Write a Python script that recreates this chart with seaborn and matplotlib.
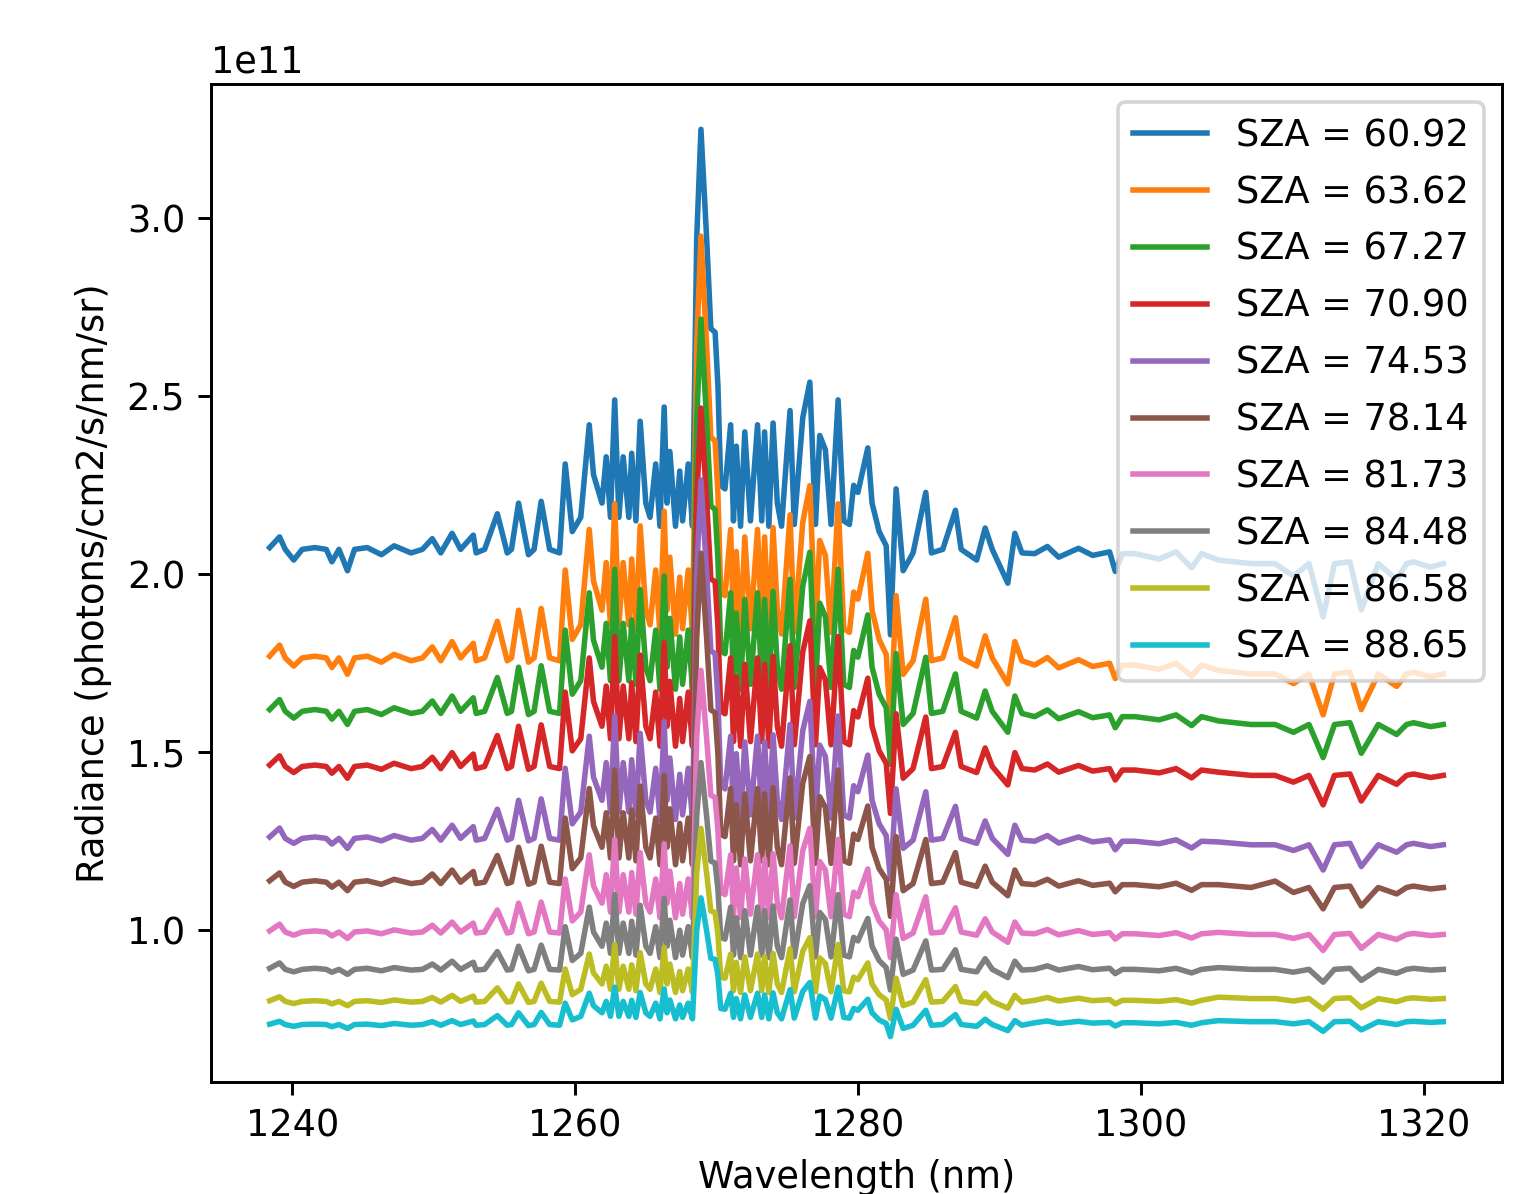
import pandas as pd
import matplotlib
matplotlib.use("Agg")
import matplotlib.pyplot as plt
import seaborn as sns

# Wavelength grid (nm), shared by all spectra
wavelength = [
    1238.4, 1239.1, 1239.5, 1240.1, 1240.7, 1241.6, 1242.4, 1242.8, 1243.3, 1243.9,
    1244.4, 1245.3, 1246.3, 1247.2, 1248.4, 1249.2, 1249.9, 1250.5, 1251.3, 1251.9,
    1252.8, 1253.0, 1253.6, 1254.5, 1255.2, 1255.5, 1256.0, 1256.7, 1257.1, 1257.6,
    1258.2, 1258.9, 1259.3, 1259.8, 1260.4, 1261.0, 1261.3, 1261.9, 1262.2, 1262.5,
    1262.8, 1263.1, 1263.4, 1263.8, 1264.0, 1264.3, 1264.6, 1265.0, 1265.3, 1265.7,
    1266.0, 1266.3, 1266.5, 1266.7, 1267.1, 1267.4, 1267.6, 1268.0, 1268.3, 1268.6,
    1268.9, 1269.3, 1269.6, 1269.9, 1270.1, 1270.3, 1270.6, 1271.0, 1271.2, 1271.4,
    1271.7, 1272.0, 1272.4, 1272.9, 1273.2, 1273.4, 1273.7, 1274.0, 1274.3, 1274.6,
    1275.2, 1275.5, 1276.1, 1276.6, 1277.0, 1277.3, 1277.7, 1278.1, 1278.6, 1279.0,
    1279.4, 1279.7, 1280.0, 1280.7, 1281.0, 1281.5, 1282.0, 1282.3, 1282.7, 1283.2,
    1283.9, 1284.8, 1285.2, 1286.0, 1286.9, 1287.3, 1288.4, 1289.0, 1289.5, 1290.6,
    1291.1, 1291.6, 1292.5, 1293.4, 1294.2, 1295.6, 1296.6, 1297.8, 1298.2, 1298.7,
    1299.6, 1301.3, 1302.5, 1303.6, 1304.3, 1305.5, 1307.8, 1309.5, 1310.8, 1311.9,
    1312.9, 1313.7, 1314.8, 1315.6, 1316.8, 1318.1, 1318.8, 1319.3, 1320.5, 1321.4,
]

# Radiance in units of 1e11 photons/cm2/s/nm/sr, one list per solar zenith angle
rad_6092 = [
    2.075, 2.105, 2.070, 2.040, 2.070, 2.075, 2.070, 2.035, 2.070, 2.010,
    2.070, 2.075, 2.055, 2.080, 2.060, 2.070, 2.100, 2.060, 2.115, 2.070,
    2.110, 2.060, 2.070, 2.170, 2.060, 2.070, 2.200, 2.055, 2.070, 2.205,
    2.070, 2.060, 2.310, 2.120, 2.160, 2.420, 2.280, 2.200, 2.330, 2.160,
    2.490, 2.160, 2.330, 2.160, 2.340, 2.150, 2.430, 2.200, 2.160, 2.310,
    2.135, 2.470, 2.200, 2.345, 2.135, 2.290, 2.150, 2.310, 2.135, 2.945,
    3.250, 2.945, 2.690, 2.680, 2.530, 2.250, 2.240, 2.420, 2.150, 2.360,
    2.135, 2.400, 2.150, 2.420, 2.150, 2.400, 2.135, 2.425, 2.200, 2.135,
    2.460, 2.140, 2.440, 2.540, 2.140, 2.390, 2.350, 2.140, 2.490, 2.150,
    2.140, 2.250, 2.230, 2.355, 2.200, 2.120, 2.080, 1.830, 2.240, 2.010,
    2.060, 2.230, 2.060, 2.070, 2.180, 2.070, 2.040, 2.130, 2.070, 1.975,
    2.115, 2.060, 2.058, 2.078, 2.048, 2.073, 2.053, 2.063, 2.008, 2.058,
    2.058, 2.043, 2.063, 2.018, 2.058, 2.040, 2.030, 2.030, 1.995, 2.030,
    1.880, 2.030, 2.035, 1.900, 2.030, 1.985, 2.030, 2.035, 2.020, 2.030,
]
rad_6362 = [
    1.770, 1.801, 1.765, 1.742, 1.765, 1.770, 1.765, 1.738, 1.765, 1.719,
    1.765, 1.770, 1.753, 1.775, 1.757, 1.765, 1.796, 1.757, 1.811, 1.765,
    1.806, 1.757, 1.765, 1.868, 1.757, 1.765, 1.899, 1.753, 1.765, 1.904,
    1.765, 1.757, 2.012, 1.817, 1.858, 2.126, 1.981, 1.899, 2.033, 1.858,
    2.198, 1.858, 2.033, 1.858, 2.043, 1.847, 2.136, 1.899, 1.858, 2.012,
    1.832, 2.177, 1.899, 2.048, 1.832, 1.992, 1.847, 2.012, 1.832, 2.645,
    2.950, 2.645, 2.385, 2.375, 2.225, 1.950, 1.940, 2.126, 1.847, 2.064,
    1.832, 2.105, 1.847, 2.126, 1.847, 2.105, 1.832, 2.131, 1.899, 1.832,
    2.167, 1.837, 2.146, 2.249, 1.837, 2.095, 2.053, 1.837, 2.198, 1.847,
    1.837, 1.950, 1.930, 2.059, 1.899, 1.817, 1.775, 1.580, 1.940, 1.719,
    1.757, 1.930, 1.757, 1.765, 1.878, 1.765, 1.742, 1.827, 1.765, 1.692,
    1.811, 1.757, 1.745, 1.766, 1.737, 1.760, 1.741, 1.750, 1.707, 1.745,
    1.745, 1.733, 1.750, 1.714, 1.745, 1.730, 1.720, 1.720, 1.693, 1.720,
    1.605, 1.720, 1.725, 1.620, 1.720, 1.685, 1.720, 1.725, 1.712, 1.720,
]
rad_6727 = [
    1.620, 1.648, 1.615, 1.596, 1.615, 1.620, 1.615, 1.593, 1.615, 1.578,
    1.615, 1.620, 1.606, 1.625, 1.609, 1.615, 1.644, 1.609, 1.658, 1.615,
    1.653, 1.609, 1.615, 1.710, 1.609, 1.615, 1.739, 1.606, 1.615, 1.743,
    1.615, 1.609, 1.843, 1.663, 1.701, 1.948, 1.815, 1.739, 1.862, 1.701,
    2.014, 1.701, 1.862, 1.701, 1.872, 1.691, 1.957, 1.739, 1.701, 1.843,
    1.677, 1.995, 1.739, 1.876, 1.677, 1.824, 1.691, 1.843, 1.677, 2.433,
    2.717, 2.433, 2.192, 2.182, 2.043, 1.786, 1.777, 1.948, 1.691, 1.891,
    1.677, 1.929, 1.691, 1.948, 1.691, 1.929, 1.677, 1.952, 1.739, 1.677,
    1.986, 1.682, 1.967, 2.062, 1.682, 1.919, 1.881, 1.682, 2.014, 1.691,
    1.682, 1.786, 1.767, 1.886, 1.739, 1.663, 1.625, 1.466, 1.777, 1.578,
    1.609, 1.767, 1.609, 1.615, 1.720, 1.615, 1.596, 1.672, 1.615, 1.556,
    1.658, 1.609, 1.600, 1.619, 1.594, 1.614, 1.597, 1.605, 1.569, 1.600,
    1.600, 1.591, 1.605, 1.575, 1.600, 1.588, 1.578, 1.578, 1.556, 1.578,
    1.485, 1.578, 1.583, 1.497, 1.578, 1.550, 1.578, 1.583, 1.572, 1.578,
]
rad_7090 = [
    1.464, 1.490, 1.460, 1.443, 1.460, 1.464, 1.460, 1.441, 1.460, 1.427,
    1.460, 1.464, 1.452, 1.469, 1.454, 1.460, 1.486, 1.454, 1.499, 1.460,
    1.495, 1.454, 1.460, 1.547, 1.454, 1.460, 1.573, 1.452, 1.460, 1.577,
    1.460, 1.454, 1.669, 1.504, 1.538, 1.765, 1.643, 1.573, 1.686, 1.538,
    1.825, 1.538, 1.686, 1.538, 1.695, 1.530, 1.773, 1.573, 1.538, 1.669,
    1.517, 1.808, 1.573, 1.699, 1.517, 1.651, 1.530, 1.669, 1.517, 2.208,
    2.467, 2.208, 1.987, 1.979, 1.851, 1.617, 1.608, 1.765, 1.530, 1.712,
    1.517, 1.747, 1.530, 1.765, 1.530, 1.747, 1.517, 1.769, 1.573, 1.517,
    1.799, 1.521, 1.782, 1.869, 1.521, 1.738, 1.704, 1.521, 1.825, 1.530,
    1.521, 1.617, 1.599, 1.708, 1.573, 1.504, 1.469, 1.328, 1.608, 1.427,
    1.454, 1.599, 1.454, 1.460, 1.556, 1.460, 1.443, 1.512, 1.460, 1.408,
    1.499, 1.454, 1.450, 1.467, 1.444, 1.463, 1.447, 1.454, 1.422, 1.450,
    1.450, 1.442, 1.454, 1.428, 1.450, 1.444, 1.435, 1.435, 1.416, 1.435,
    1.352, 1.435, 1.439, 1.363, 1.435, 1.410, 1.435, 1.439, 1.429, 1.435,
]
rad_7453 = [
    1.262, 1.287, 1.258, 1.244, 1.258, 1.262, 1.258, 1.242, 1.258, 1.230,
    1.258, 1.262, 1.251, 1.266, 1.253, 1.258, 1.283, 1.253, 1.295, 1.258,
    1.291, 1.253, 1.258, 1.340, 1.253, 1.258, 1.365, 1.251, 1.258, 1.369,
    1.258, 1.253, 1.455, 1.299, 1.332, 1.545, 1.430, 1.365, 1.471, 1.332,
    1.602, 1.332, 1.471, 1.332, 1.479, 1.324, 1.553, 1.365, 1.332, 1.455,
    1.311, 1.586, 1.365, 1.484, 1.311, 1.438, 1.324, 1.455, 1.311, 2.006,
    2.265, 2.006, 1.785, 1.777, 1.649, 1.406, 1.397, 1.545, 1.324, 1.496,
    1.311, 1.529, 1.324, 1.545, 1.324, 1.529, 1.311, 1.549, 1.365, 1.311,
    1.578, 1.315, 1.561, 1.643, 1.315, 1.520, 1.488, 1.315, 1.602, 1.324,
    1.315, 1.406, 1.389, 1.492, 1.365, 1.299, 1.266, 1.145, 1.397, 1.230,
    1.253, 1.389, 1.253, 1.258, 1.348, 1.258, 1.244, 1.307, 1.258, 1.213,
    1.295, 1.253, 1.250, 1.266, 1.245, 1.262, 1.248, 1.254, 1.226, 1.250,
    1.250, 1.243, 1.254, 1.231, 1.250, 1.248, 1.240, 1.240, 1.224, 1.240,
    1.169, 1.240, 1.244, 1.179, 1.240, 1.219, 1.240, 1.244, 1.235, 1.240,
]
rad_7814 = [
    1.139, 1.161, 1.135, 1.123, 1.135, 1.139, 1.135, 1.121, 1.135, 1.111,
    1.135, 1.139, 1.129, 1.143, 1.131, 1.135, 1.158, 1.131, 1.169, 1.135,
    1.165, 1.131, 1.135, 1.210, 1.131, 1.135, 1.233, 1.129, 1.135, 1.236,
    1.135, 1.131, 1.315, 1.173, 1.203, 1.398, 1.293, 1.233, 1.330, 1.203,
    1.450, 1.203, 1.330, 1.203, 1.338, 1.195, 1.405, 1.233, 1.203, 1.315,
    1.184, 1.435, 1.233, 1.341, 1.184, 1.300, 1.195, 1.315, 1.184, 1.821,
    2.059, 1.821, 1.619, 1.611, 1.494, 1.270, 1.263, 1.398, 1.195, 1.353,
    1.184, 1.383, 1.195, 1.398, 1.195, 1.383, 1.184, 1.401, 1.233, 1.184,
    1.428, 1.188, 1.413, 1.488, 1.188, 1.375, 1.345, 1.188, 1.450, 1.195,
    1.188, 1.270, 1.255, 1.349, 1.233, 1.173, 1.143, 1.039, 1.263, 1.111,
    1.131, 1.255, 1.131, 1.135, 1.218, 1.135, 1.123, 1.180, 1.135, 1.097,
    1.169, 1.131, 1.128, 1.143, 1.124, 1.139, 1.126, 1.132, 1.108, 1.128,
    1.128, 1.122, 1.132, 1.112, 1.128, 1.128, 1.120, 1.138, 1.106, 1.120,
    1.060, 1.120, 1.124, 1.068, 1.120, 1.102, 1.120, 1.124, 1.116, 1.120,
]
rad_8173 = [
    0.998, 1.017, 0.995, 0.986, 0.995, 0.998, 0.995, 0.984, 0.995, 0.977,
    0.995, 0.998, 0.990, 1.001, 0.992, 0.995, 1.014, 0.992, 1.023, 0.995,
    1.020, 0.992, 0.995, 1.057, 0.992, 0.995, 1.076, 0.990, 0.995, 1.079,
    0.995, 0.992, 1.144, 1.026, 1.051, 1.212, 1.125, 1.076, 1.156, 1.051,
    1.255, 1.051, 1.156, 1.051, 1.162, 1.045, 1.218, 1.076, 1.051, 1.144,
    1.035, 1.243, 1.076, 1.166, 1.035, 1.131, 1.045, 1.144, 1.035, 1.541,
    1.730, 1.541, 1.379, 1.373, 1.280, 1.107, 1.100, 1.212, 1.045, 1.175,
    1.035, 1.200, 1.045, 1.212, 1.045, 1.200, 1.035, 1.215, 1.076, 1.035,
    1.237, 1.038, 1.224, 1.286, 1.038, 1.193, 1.169, 1.038, 1.255, 1.045,
    1.038, 1.107, 1.094, 1.172, 1.076, 1.026, 1.001, 0.923, 1.100, 0.977,
    0.992, 1.094, 0.992, 0.995, 1.063, 0.995, 0.986, 1.032, 0.995, 0.966,
    1.023, 0.992, 0.990, 1.002, 0.987, 0.999, 0.988, 0.993, 0.975, 0.990,
    0.990, 0.985, 0.993, 0.978, 0.990, 0.994, 0.988, 0.988, 0.977, 0.988,
    0.943, 0.988, 0.991, 0.949, 0.988, 0.974, 0.988, 0.991, 0.985, 0.988,
]
rad_8448 = [
    0.893, 0.908, 0.890, 0.883, 0.890, 0.893, 0.890, 0.882, 0.890, 0.876,
    0.890, 0.893, 0.886, 0.895, 0.888, 0.890, 0.905, 0.888, 0.913, 0.890,
    0.910, 0.888, 0.890, 0.940, 0.888, 0.890, 0.955, 0.886, 0.890, 0.958,
    0.890, 0.888, 1.010, 0.915, 0.935, 1.065, 0.995, 0.955, 1.020, 0.935,
    1.100, 0.935, 1.020, 0.935, 1.025, 0.930, 1.070, 0.955, 0.935, 1.010,
    0.923, 1.090, 0.955, 1.028, 0.923, 1.000, 0.930, 1.010, 0.923, 1.321,
    1.471, 1.321, 1.194, 1.189, 1.115, 0.980, 0.975, 1.065, 0.930, 1.035,
    0.923, 1.055, 0.930, 1.065, 0.930, 1.055, 0.923, 1.068, 0.955, 0.923,
    1.085, 0.925, 1.075, 1.125, 0.925, 1.050, 1.030, 0.925, 1.100, 0.930,
    0.925, 0.980, 0.970, 1.033, 0.955, 0.915, 0.895, 0.832, 0.975, 0.876,
    0.888, 0.970, 0.888, 0.890, 0.945, 0.890, 0.883, 0.920, 0.890, 0.867,
    0.913, 0.888, 0.890, 0.900, 0.888, 0.898, 0.889, 0.893, 0.878, 0.890,
    0.890, 0.886, 0.893, 0.880, 0.890, 0.895, 0.890, 0.890, 0.882, 0.890,
    0.854, 0.890, 0.893, 0.859, 0.890, 0.879, 0.890, 0.893, 0.888, 0.890,
]
rad_8658 = [
    0.802, 0.813, 0.800, 0.794, 0.800, 0.802, 0.800, 0.793, 0.800, 0.788,
    0.800, 0.802, 0.797, 0.804, 0.798, 0.800, 0.811, 0.798, 0.817, 0.800,
    0.815, 0.798, 0.800, 0.838, 0.798, 0.800, 0.849, 0.797, 0.800, 0.851,
    0.800, 0.798, 0.891, 0.819, 0.834, 0.933, 0.880, 0.849, 0.899, 0.834,
    0.960, 0.834, 0.899, 0.834, 0.903, 0.830, 0.937, 0.849, 0.834, 0.891,
    0.825, 0.952, 0.849, 0.905, 0.825, 0.884, 0.830, 0.891, 0.825, 1.161,
    1.286, 1.161, 1.054, 1.050, 0.989, 0.868, 0.865, 0.933, 0.830, 0.910,
    0.825, 0.925, 0.830, 0.933, 0.830, 0.925, 0.825, 0.935, 0.849, 0.825,
    0.948, 0.827, 0.941, 0.979, 0.827, 0.922, 0.906, 0.827, 0.960, 0.830,
    0.827, 0.868, 0.861, 0.908, 0.849, 0.819, 0.804, 0.752, 0.865, 0.788,
    0.798, 0.861, 0.798, 0.800, 0.842, 0.800, 0.794, 0.823, 0.800, 0.781,
    0.817, 0.798, 0.803, 0.811, 0.801, 0.809, 0.802, 0.805, 0.793, 0.803,
    0.803, 0.800, 0.805, 0.795, 0.803, 0.812, 0.808, 0.808, 0.801, 0.808,
    0.778, 0.808, 0.810, 0.782, 0.808, 0.799, 0.808, 0.810, 0.806, 0.808,
]
rad_8865 = [
    0.736, 0.744, 0.735, 0.730, 0.735, 0.736, 0.735, 0.729, 0.735, 0.724,
    0.735, 0.736, 0.732, 0.738, 0.733, 0.735, 0.743, 0.733, 0.746, 0.735,
    0.745, 0.733, 0.735, 0.760, 0.733, 0.735, 0.768, 0.732, 0.735, 0.769,
    0.735, 0.733, 0.795, 0.748, 0.758, 0.823, 0.788, 0.768, 0.800, 0.758,
    0.840, 0.758, 0.800, 0.758, 0.803, 0.755, 0.825, 0.768, 0.758, 0.795,
    0.751, 0.835, 0.768, 0.804, 0.751, 0.790, 0.755, 0.795, 0.751, 0.999,
    1.091, 0.999, 0.921, 0.918, 0.873, 0.780, 0.778, 0.823, 0.755, 0.808,
    0.751, 0.818, 0.755, 0.823, 0.755, 0.818, 0.751, 0.824, 0.768, 0.751,
    0.833, 0.753, 0.828, 0.853, 0.753, 0.815, 0.805, 0.753, 0.840, 0.755,
    0.753, 0.780, 0.775, 0.806, 0.768, 0.748, 0.738, 0.701, 0.778, 0.724,
    0.733, 0.775, 0.733, 0.735, 0.763, 0.735, 0.730, 0.750, 0.735, 0.718,
    0.746, 0.733, 0.740, 0.745, 0.738, 0.744, 0.739, 0.741, 0.731, 0.740,
    0.740, 0.737, 0.741, 0.733, 0.740, 0.746, 0.743, 0.743, 0.737, 0.743,
    0.716, 0.743, 0.744, 0.720, 0.743, 0.735, 0.743, 0.744, 0.741, 0.743,
]

sza = ["60.92", "63.62", "67.27", "70.90", "74.53", "78.14", "81.73", "84.48", "86.58", "88.65"]
spectra = [rad_6092, rad_6362, rad_6727, rad_7090, rad_7453,
           rad_7814, rad_8173, rad_8448, rad_8658, rad_8865]

# long table for seaborn
frames = []
for angle, vals in zip(sza, spectra):
    assert len(vals) == len(wavelength)
    frames.append(pd.DataFrame({
        "wavelength": wavelength,
        "radiance": [v * 1e11 for v in vals],
        "label": f"SZA = {angle}",
    }))
df = pd.concat(frames, ignore_index=True)
labels = [f"SZA = {a}" for a in sza]

fig = plt.figure(figsize=(1520 / 265, 1194 / 265), dpi=265)
ax = fig.add_axes([211 / 1520, 1 - 1082 / 1194, 1291 / 1520, 998 / 1194])

sns.lineplot(data=df, x="wavelength", y="radiance", hue="label", hue_order=labels,
             palette=sns.color_palette("tab10", 10), estimator=None, linewidth=1.5, ax=ax)

ax.set_xticks([1240, 1260, 1280, 1300, 1320])
ax.set_xlabel("Wavelength (nm)")
ax.set_ylabel("Radiance (photons/cm2/s/nm/sr)")
sns.move_legend(ax, "upper right", title=None, labelspacing=0.54)

fig.savefig("out.png", dpi=265)
